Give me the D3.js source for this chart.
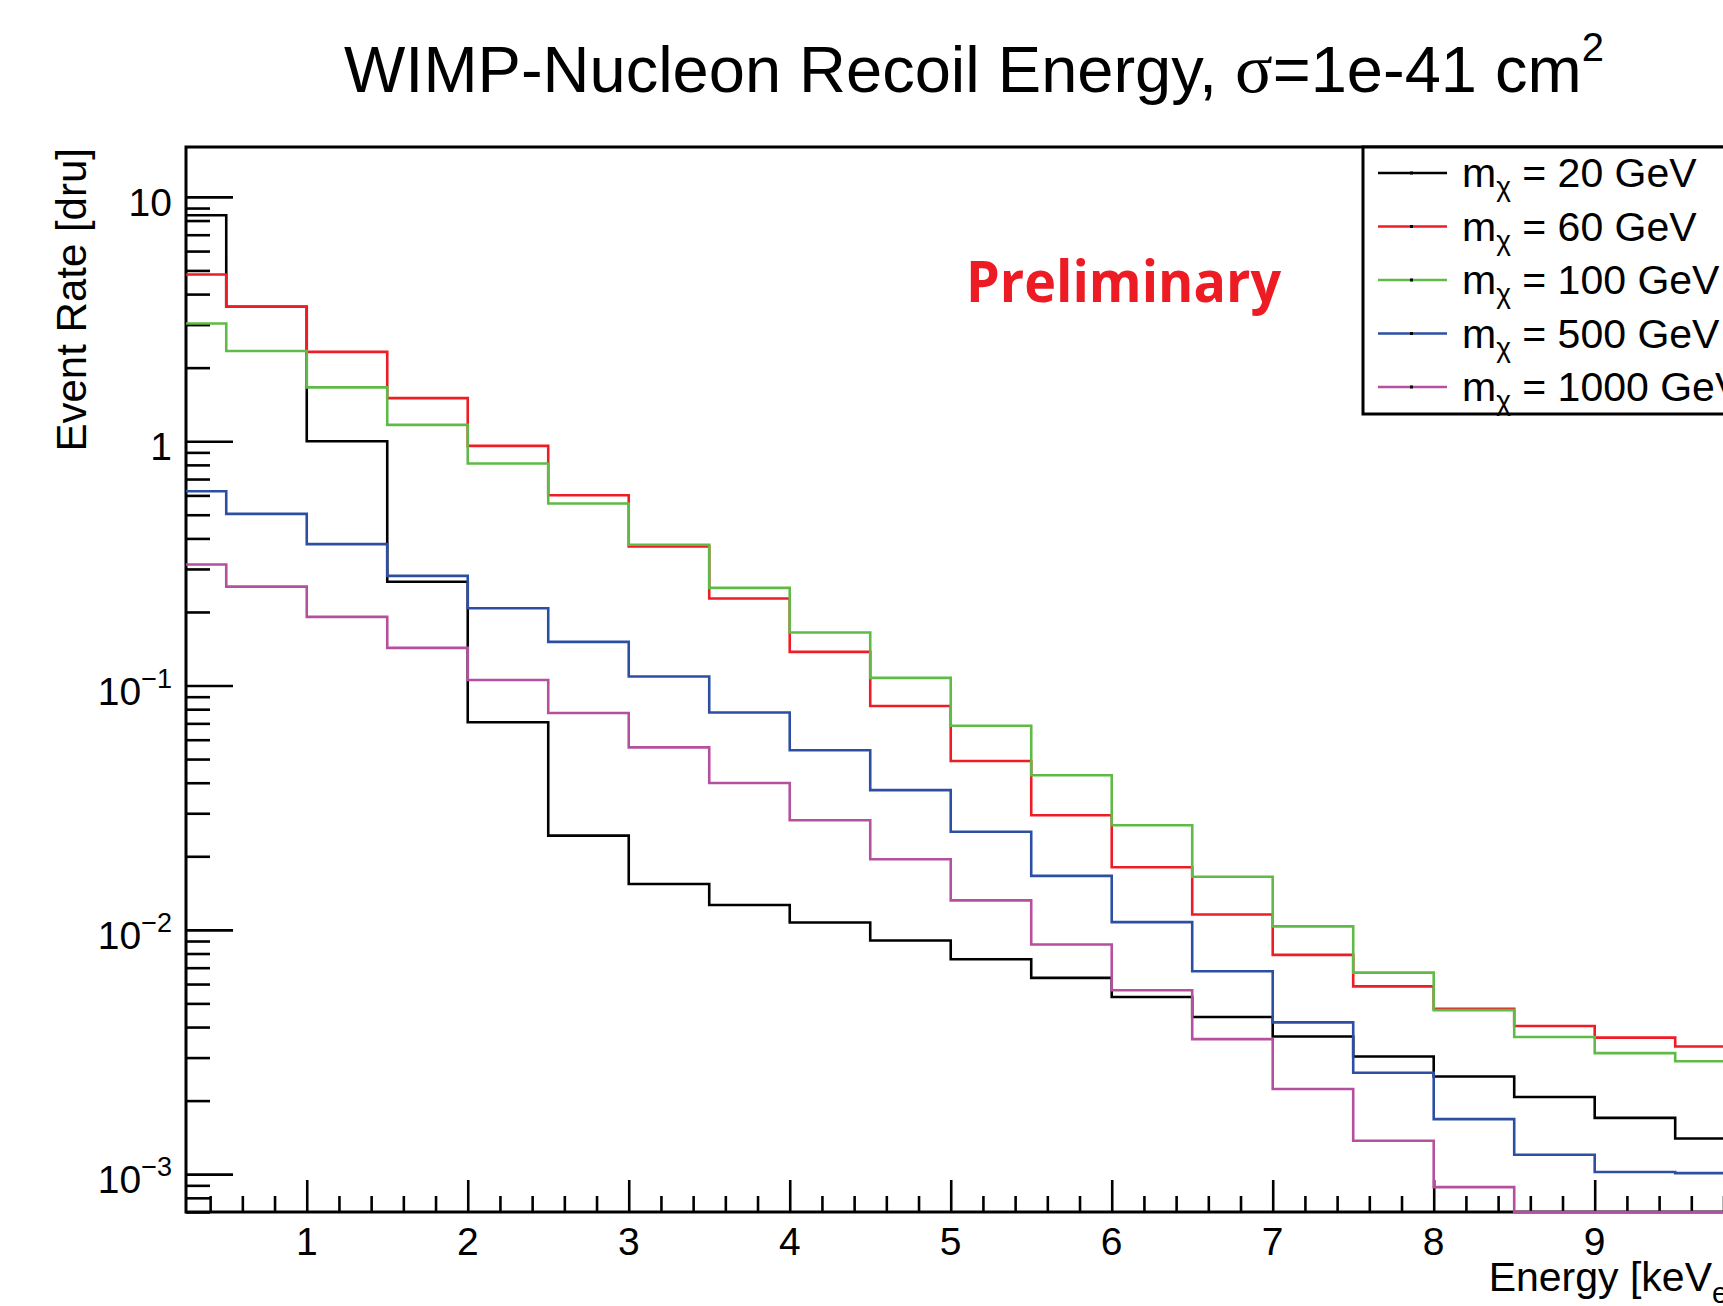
<!DOCTYPE html>
<html lang="en">
<head>
<meta charset="utf-8">
<title>WIMP-Nucleon Recoil Energy</title>
<script src="https://d3js.org/d3.v7.min.js"></script>
<style>
  body { margin: 0; background: #fff; }
  svg { display: block; font-family: "Liberation Sans", Arial, sans-serif; }
  .hist { fill: none; stroke-width: 2.6; }
  .tick line { stroke: #000; stroke-width: 2.6; }
</style>
</head>
<body>
<script>
// bin edges in keV (bins of 0.5), one value per bin
const binEdges = [0, 0.5, 1, 1.5, 2, 2.5, 3, 3.5, 4, 4.5, 5, 5.5, 6, 6.5, 7, 7.5, 8, 8.5, 9, 9.5, 10];

const masses = ["20", "60", "100", "500", "1000"];
const colors = ["#000000", "#ee1d25", "#5fba47", "#2d4fa3", "#b5509f"];

const rate20   = [8.41, 3.55, 1.0, 0.266, 0.0707, 0.0243, 0.0154, 0.01264, 0.01071, 0.00904,
                  0.00758, 0.00636, 0.00531, 0.0044, 0.00366, 0.00303, 0.00251, 0.00207, 0.0017, 0.0014];
const rate60   = [4.81, 3.55, 2.32, 1.50, 0.957, 0.601, 0.371, 0.227, 0.1373, 0.0825,
                  0.0491, 0.02944, 0.01804, 0.01155, 0.0079, 0.00587, 0.00475, 0.00404, 0.00362, 0.00333];
const rate100  = [3.03, 2.34, 1.66, 1.166, 0.810, 0.556, 0.377, 0.251, 0.1647, 0.1075,
                  0.0684, 0.0429, 0.0268, 0.0165, 0.01033, 0.00668, 0.00469, 0.00364, 0.00313, 0.0029];
const rate500  = [0.624, 0.504, 0.379, 0.281, 0.207, 0.1509, 0.1088, 0.0775, 0.0543, 0.0373,
                  0.0252, 0.01663, 0.01075, 0.00677, 0.00418, 0.0026, 0.00168, 0.0012, 0.00102, 0.00101];
const rate1000 = [0.313, 0.254, 0.191, 0.1426, 0.1054, 0.0772, 0.0558, 0.0399, 0.0281, 0.01945,
                  0.0132, 0.00871, 0.00566, 0.00357, 0.00223, 0.00137, 0.000885, 0, 0, 0];

const xTicks = [1, 2, 3, 4, 5, 6, 7, 8, 9];
const yTicks = [0.001, 0.01, 0.1, 1, 10];
const yLabels = [["10", "\u22123"], ["10", "\u22122"], ["10", "\u22121"], ["1", ""], ["10", ""]];

const series = [rate20, rate60, rate100, rate500, rate1000];

const W = 1723, H = 1306;
const frameL = 186, frameT = 147, frameB = 1212;

const x = d3.scaleLinear().domain([0.25, 10]).range([frameL, 1755.7]);
const y = d3.scaleLog().domain([7e-4, 16]).range([frameB, frameT]);

const svg = d3.select("body").append("svg")
    .attr("width", W).attr("height", H);

svg.append("rect").attr("width", W).attr("height", H).attr("fill", "#fff");

svg.append("clipPath").attr("id", "frame")
  .append("rect")
    .attr("x", frameL).attr("y", frameT)
    .attr("width", x.range()[1] - frameL).attr("height", frameB - frameT + 2);

// frame
svg.append("rect")
    .attr("x", frameL).attr("y", frameT)
    .attr("width", x.range()[1] - frameL).attr("height", frameB - frameT)
    .attr("fill", "none").attr("stroke", "#000").attr("stroke-width", 3);

// axes: major and minor ticks pointing inwards
const yMinor = y.ticks().filter(v => !yTicks.some(t => Math.abs(t - v) / t < 1e-6));
const xMinor = x.ticks(50).filter(v => Math.abs(v - Math.round(v)) > 1e-6);

svg.append("g").attr("transform", `translate(${frameL},0)`)
    .call(d3.axisLeft(y).tickValues(yTicks).tickSize(-47).tickFormat(""))
    .call(g => g.select(".domain").remove());
svg.append("g").attr("transform", `translate(${frameL},0)`)
    .call(d3.axisLeft(y).tickValues(yMinor).tickSize(-24).tickFormat(""))
    .call(g => g.select(".domain").remove());
svg.append("g").attr("transform", `translate(0,${frameB})`)
    .call(d3.axisBottom(x).tickValues(xTicks).tickSize(-32).tickFormat(""))
    .call(g => g.select(".domain").remove());
svg.append("g").attr("transform", `translate(0,${frameB})`)
    .call(d3.axisBottom(x).tickValues(xMinor).tickSize(-16).tickFormat(""))
    .call(g => g.select(".domain").remove());

// histograms, drawn over the frame like ROOT does
const yv = v => v > 0 ? y(v) : frameB;
const line = d3.line()
    .x(d => x(d[0]))
    .y(d => yv(d[1]))
    .curve(d3.curveStepAfter);

const plot = svg.append("g").attr("clip-path", "url(#frame)");
series.forEach((vals, k) => {
  const pts = vals.map((v, i) => [binEdges[i], v]);
  pts.push([binEdges[vals.length], vals[vals.length - 1]]);
  plot.append("path")
      .attr("class", "hist")
      .attr("stroke", colors[k])
      .attr("d", line(pts));
});

// tick labels
svg.append("g").selectAll("text").data(xTicks).join("text")
    .attr("x", d => x(d)).attr("y", 1255)
    .attr("text-anchor", "middle")
    .attr("font-size", 39)
    .text(d => d);

const yl = svg.append("g").selectAll("text").data(yTicks).join("text")
    .attr("x", 172).attr("y", d => y(d) + 19)
    .attr("text-anchor", "end")
    .attr("font-size", 39);
yl.append("tspan").text((d, i) => yLabels[i][0]);
yl.append("tspan")
    .attr("font-size", 27).attr("dy", -17)
    .text((d, i) => yLabels[i][1]);

// axis titles
const xt = svg.append("text")
    .attr("x", x.range()[1]).attr("y", 1291)
    .attr("text-anchor", "end").attr("font-size", 41);
xt.append("tspan").text("Energy [keV");
xt.append("tspan").attr("font-size", 29).attr("dy", 12).text("ee");
xt.append("tspan").attr("dy", -12).text("]");

svg.append("text")
    .attr("transform", `translate(86,${frameT + 1}) rotate(-90)`)
    .attr("text-anchor", "end").attr("font-size", 42)
    .text("Event Rate [dru]");

// title
const title = svg.append("text")
    .attr("x", 344).attr("y", 92)
    .attr("font-size", 65);
title.append("tspan").text("WIMP-Nucleon Recoil Energy, ");
title.append("tspan").attr("font-family", "Liberation Serif, serif").attr("font-size", 70).text("\u03c3");
title.append("tspan").text("=1e-41 cm");
title.append("tspan").attr("font-size", 40).attr("dy", -31).text("2");

// Preliminary stamp
svg.append("text")
    .attr("x", 966).attr("y", 302)
    .attr("font-family", "'Open Sans', sans-serif")
    .attr("font-weight", "bold").attr("font-size", 57)
    .attr("textLength", 315).attr("lengthAdjust", "spacingAndGlyphs")
    .attr("fill", "#ed1c24")
    .text("Preliminary");

// legend
const lg = svg.append("g");
lg.append("rect")
    .attr("x", 1363).attr("y", frameT)
    .attr("width", 500).attr("height", 267)
    .attr("fill", "#fff").attr("stroke", "#000").attr("stroke-width", 3);

const entry = lg.selectAll("g.entry").data(masses).join("g")
    .attr("class", "entry")
    .attr("transform", (d, i) => `translate(0,${173 + i * 53.5})`);
entry.append("line")
    .attr("x1", 1378).attr("x2", 1447)
    .attr("stroke", (d, i) => colors[i]).attr("stroke-width", 2.6);
entry.append("rect")
    .attr("x", 1410).attr("y", -1.5).attr("width", 3).attr("height", 3)
    .attr("fill", "#000");
const et = entry.append("text")
    .attr("x", 1462).attr("y", 14)
    .attr("font-size", 41);
et.append("tspan").text("m");
et.append("tspan").attr("font-size", 28).attr("dy", 9).text("\u03c7");
et.append("tspan").attr("dy", -9).text(d => ` = ${d} GeV`);
</script>
</body>
</html>
